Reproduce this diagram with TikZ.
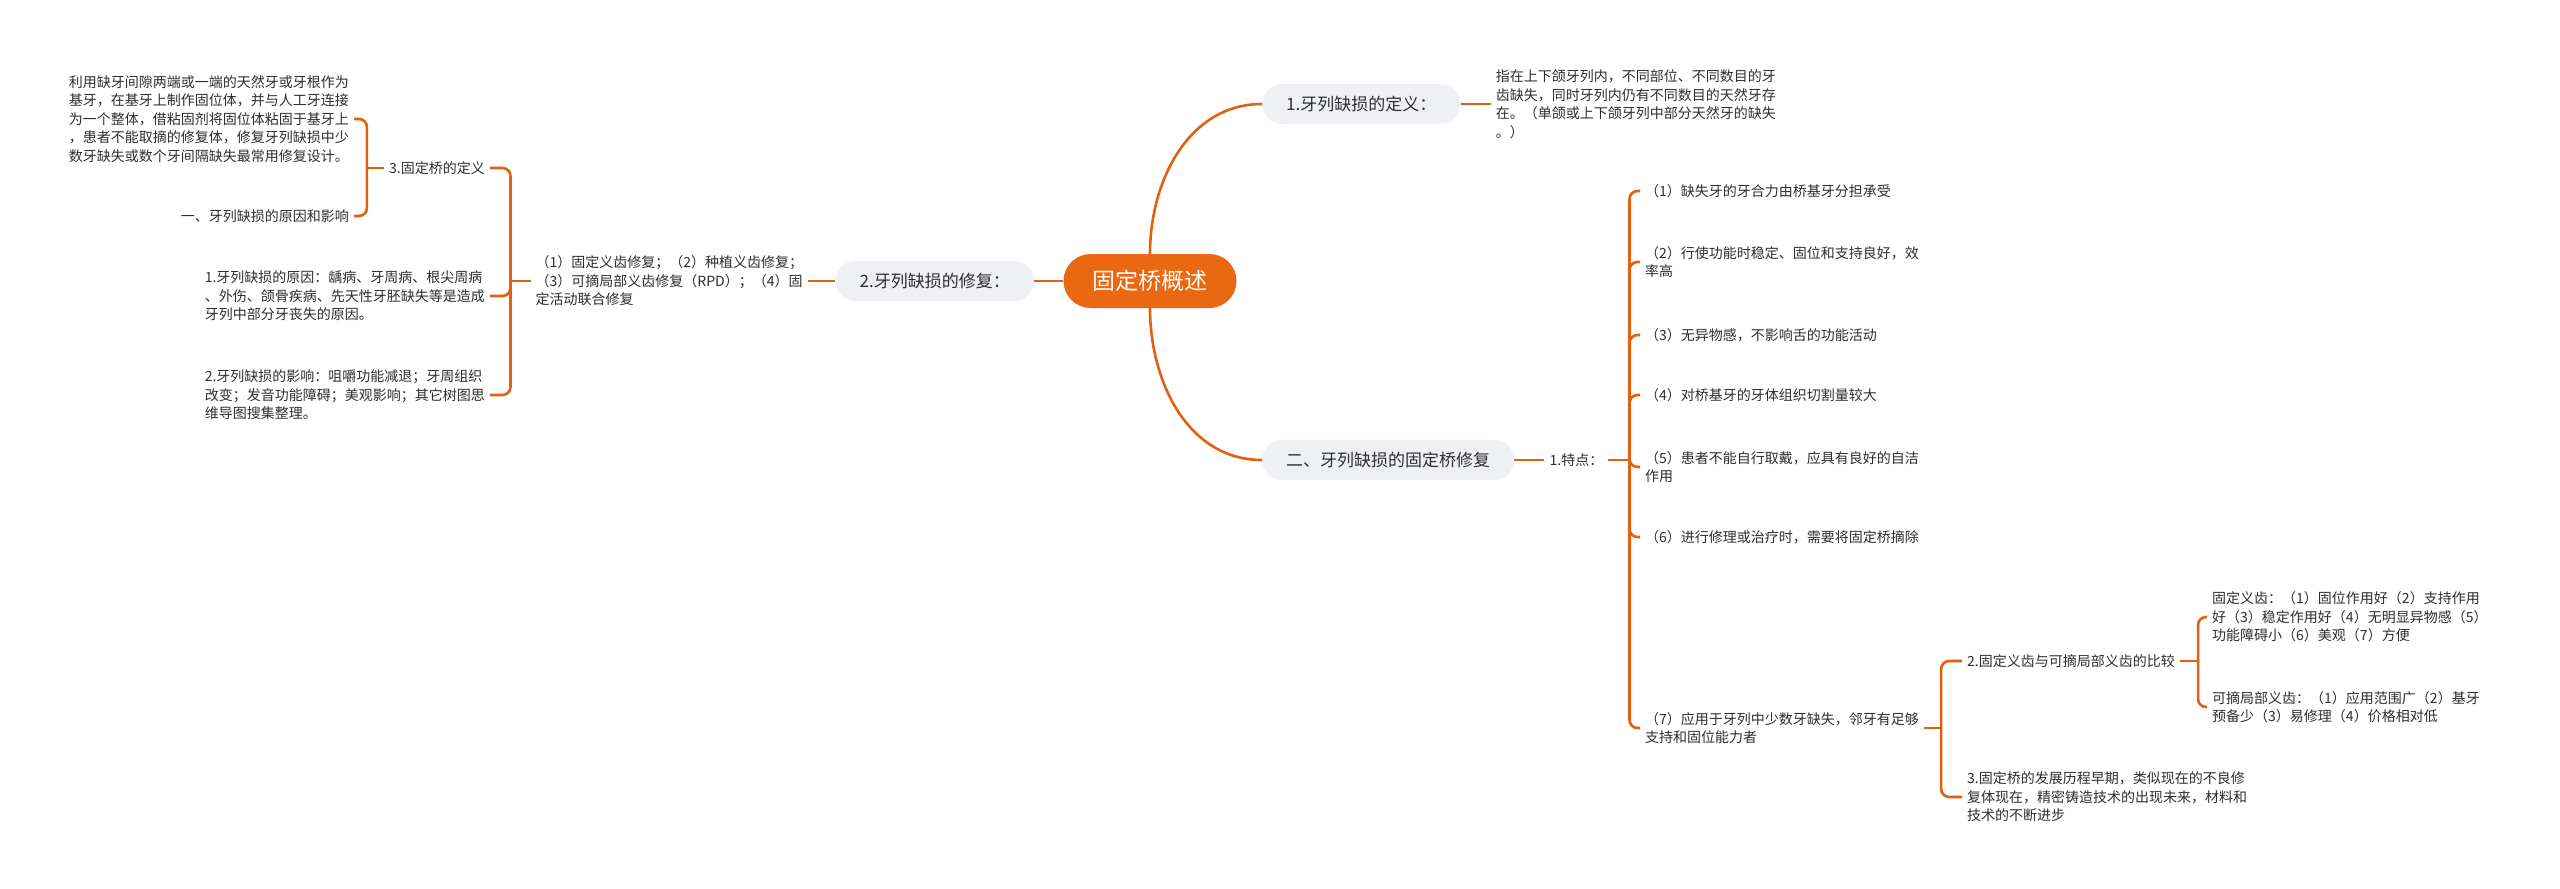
\documentclass[tikz,border=0pt]{standalone}
\usepackage{fontspec}
\setmainfont{Noto Sans CJK SC}
\usetikzlibrary{positioning}
\definecolor{mmorange}{HTML}{EB6812}
\definecolor{mmline}{HTML}{E2600E}
\definecolor{mmgray}{HTML}{EEF0F3}
\definecolor{mmtext}{HTML}{2E2E2E}
\tikzset{
  rootbox/.style={fill=mmorange, text=white, rounded corners=27pt, minimum width=173pt, minimum height=54pt, font=\fontsize{23}{28}\selectfont},
  topic/.style={fill=mmgray, text=mmtext, rounded corners=20pt, minimum height=40pt, inner xsep=24pt, font=\fontsize{17}{21}\selectfont},
  leaf/.style={text=mmtext, align=left, inner xsep=5pt, inner ysep=2pt, font=\fontsize{14}{18.5}\selectfont},
  link/.style={draw=mmline, line width=2.6pt},
  brace/.style={link, rounded corners=8pt},
}

\begin{document}
\begin{tikzpicture}[x=1pt, y=-1pt, node distance=24pt]
\path[fill=white] (0,0) rectangle (2560,889);

\node[rootbox] (root) at (1150,281) {固定桥概述};
\node[topic, anchor=west] (def) at (1262,104) {1.牙列缺损的定义：};
\node[topic, anchor=east] (rep) at (1034,281) {2.牙列缺损的修复：};
\node[topic, anchor=west] (fix) at (1262,460) {二、牙列缺损的固定桥修复};

\draw[link] (root.north) to[out=90, in=180] (def.west);
\draw[link] (root.south) to[out=-90, in=180] (fix.west);
\draw[link] (root.west) -- (rep.east);

% definition
\node[leaf, right=30pt of def] (defT) {指在上下颌牙列内，不同部位、不同数目的牙\\齿缺失，同时牙列内仍有不同数目的天然牙存\\在。（单颌或上下颌牙列中部分天然牙的缺失\\。）};
\draw[link] (def.east) -- (defT.west);

% left branch
\node[leaf, left=27pt of rep] (repT) {（1）固定义齿修复；（2）种植义齿修复；\\（3）可摘局部义齿修复（RPD）；（4）固\\定活动联合修复};
\draw[link] (rep.west) -- (repT.east);

\node[leaf, anchor=east] (def3) at (490,168) {3.固定桥的定义};
\node[leaf, anchor=east] (cause) at (490,296) {1.牙列缺损的原因：龋病、牙周病、根尖周病\\、外伤、颌骨疾病、先天性牙胚缺失等是造成\\牙列中部分牙丧失的原因。};
\node[leaf, anchor=east] (effect) at (490,395) {2.牙列缺损的影响：咀嚼功能减退；牙周组织\\改变；发音功能障碍；美观影响；其它树图思\\维导图搜集整理。};
\draw[link] (repT.west) -- ++(-20,0);
\foreach \n in {def3,cause,effect}
  \draw[brace] (repT.west) ++(-20,0) |- (\n.east);

\node[leaf, anchor=east] (defn) at (354,119) {利用缺牙间隙两端或一端的天然牙或牙根作为\\基牙，在基牙上制作固位体，并与人工牙连接\\为一个整体，借粘固剂将固位体粘固于基牙上\\，患者不能取摘的修复体，修复牙列缺损中少\\数牙缺失或数个牙间隔缺失最常用修复设计。};
\node[leaf, anchor=east] (intro) at (354,216) {一、牙列缺损的原因和影响};
\draw[link] (def3.west) -- ++(-17,0);
\foreach \n in {defn,intro}
  \draw[brace] (def3.west) ++(-17,0) |- (\n.east);

% right branch
\node[leaf, right=30pt of fix] (feat) {1.特点：};
\draw[link] (fix.east) -- (feat.west);

\node[leaf, anchor=west] (f1) at (1640,191) {（1）缺失牙的牙合力由桥基牙分担承受};
\node[leaf, anchor=west] (f2) at (1640,262) {（2）行使功能时稳定、固位和支持良好，效\\率高};
\node[leaf, anchor=west] (f3) at (1640,335) {（3）无异物感，不影响舌的功能活动};
\node[leaf, anchor=west] (f4) at (1640,395) {（4）对桥基牙的牙体组织切割量较大};
\node[leaf, anchor=west] (f5) at (1640,467) {（5）患者不能自行取戴，应具有良好的自洁\\作用};
\node[leaf, anchor=west] (f6) at (1640,537) {（6）进行修理或治疗时，需要将固定桥摘除};
\node[leaf, anchor=west] (f7) at (1640,728) {（7）应用于牙列中少数牙缺失，邻牙有足够\\支持和固位能力者};
\draw[link] (feat.east) -- ++(21,0);
\foreach \n in {f1,f2,f3,f4,f5,f6,f7}
  \draw[brace] (feat.east) ++(21,0) |- (\n.west);

\node[leaf, anchor=west] (cmp) at (1962,661) {2.固定义齿与可摘局部义齿的比较};
\node[leaf, anchor=west] (hist) at (1962,797) {3.固定桥的发展历程早期，类似现在的不良修\\复体现在，精密铸造技术的出现未来，材料和\\技术的不断进步};
\draw[link] (f7.east) -- ++(17,0);
\foreach \n in {cmp,hist}
  \draw[brace] (f7.east) ++(17,0) |- (\n.west);

\node[leaf, anchor=west] (fixd) at (2207,617) {固定义齿：（1）固位作用好（2）支持作用\\好（3）稳定作用好（4）无明显异物感（5）\\功能障碍小（6）美观（7）方便};
\node[leaf, anchor=west] (rpd) at (2207,707) {可摘局部义齿：（1）应用范围广（2）基牙\\预备少（3）易修理（4）价格相对低};
\draw[link] (cmp.east) -- ++(18,0);
\foreach \n in {fixd,rpd}
  \draw[brace] (cmp.east) ++(18,0) |- (\n.west);
\end{tikzpicture}
\end{document}
